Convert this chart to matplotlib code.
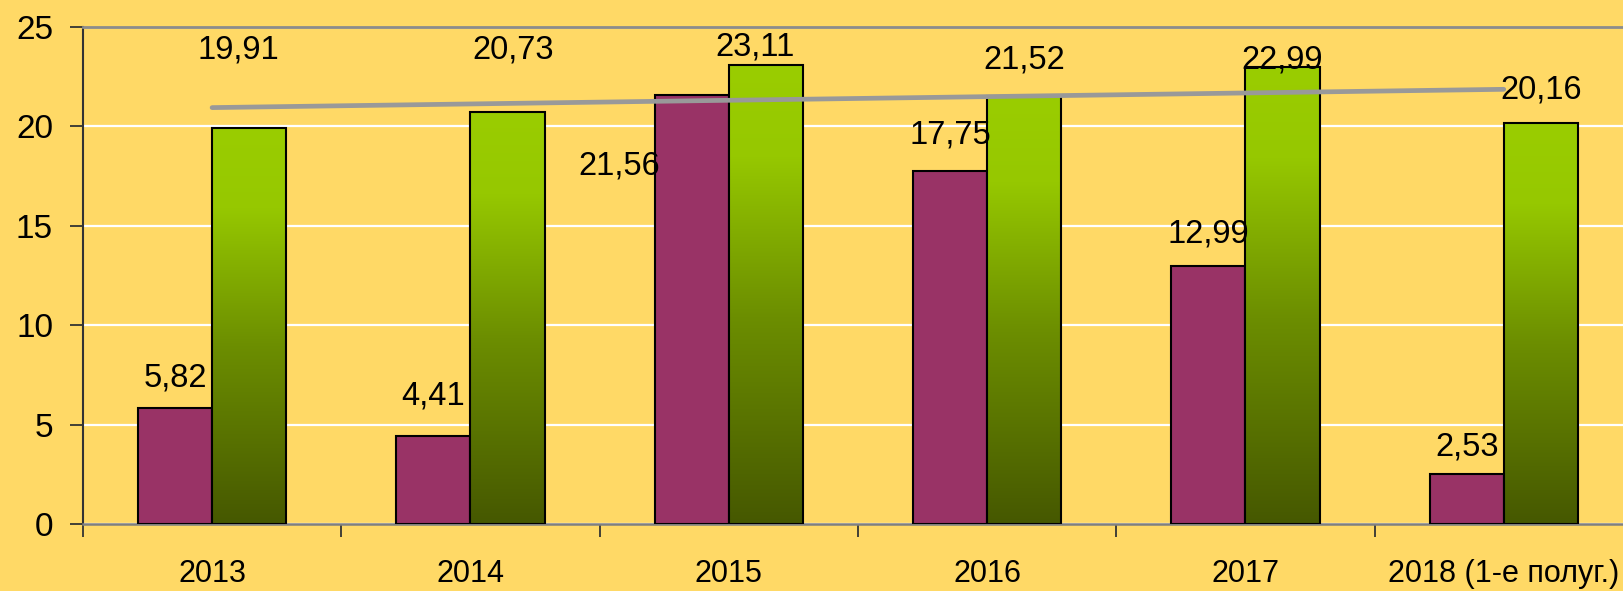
import matplotlib
matplotlib.use('Agg')
import matplotlib.pyplot as plt
from matplotlib.colors import LinearSegmentedColormap
import numpy as np


years = ['2013', '2014', '2015', '2016', '2017', '2018 (1-е полуг.)']
purple_vals = [5.82, 4.41, 21.56, 17.75, 12.99, 2.53]
green_vals = [19.91, 20.73, 23.11, 21.52, 22.99, 20.16]
purple_labels = ['5,82', '4,41', '21,56', '17,75', '12,99', '2,53']
green_labels = ['19,91', '20,73', '23,11', '21,52', '22,99', '20,16']

# where the data labels sit (manually placed in the original)
purple_label_y = [7.35, 6.45, 18.0, 19.55, 14.6, 3.85]
purple_label_dx = [0.0, 0.0, -0.28, 0.0, 0.0, 0.0]
green_label_y = [23.85, 23.85, 24.0, 23.35, 23.35, 21.85]
green_label_dx = [-0.04, 0.02, -0.04, 0.0, 0.0, 0.0]

bg = '#FFD966'
purple = '#993366'

plt.rcParams['font.family'] = ['Liberation Sans', 'DejaVu Sans']
fs_lab, fs_ytick, fs_xtick = 23.5, 24, 22

fig = plt.figure(figsize=(16.23, 5.91), dpi=100)
fig.patch.set_facecolor(bg)
ax = fig.add_axes([0.0511, 0.1134, 0.955, 0.841])
ax.set_facecolor(bg)

x = np.arange(len(years))
w = 0.287

ax.bar(x - w / 2, purple_vals, w, color=purple, edgecolor='black', linewidth=1.5, zorder=3)
gbars = ax.bar(x + w / 2, green_vals, w, color='none', edgecolor='black', linewidth=1.5, zorder=4)

cmap = LinearSegmentedColormap.from_list('g', [(0, '#465800'), (0.45, '#6C8E00'),
                                              (0.8, '#96C800'), (1, '#9ACD00')])
grad = np.linspace(0, 1, 256).reshape(-1, 1)
for b in gbars:
    x0, y0 = b.get_x(), b.get_y()
    im = ax.imshow(grad, cmap=cmap, origin='lower', aspect='auto',
                   extent=(x0, x0 + b.get_width(), y0, y0 + b.get_height()), zorder=3)
    im.set_clip_path(b)

# linear trend of the green series
k, c = np.polyfit(x, green_vals, 1)
ax.plot([x[0], x[-1]], [k * x[0] + c, k * x[-1] + c], color='#999999', lw=3.4, zorder=5,
        solid_capstyle='round')

for i in range(len(years)):
    ax.text(x[i] - w / 2 + purple_label_dx[i], purple_label_y[i], purple_labels[i],
            ha='center', va='center', fontsize=fs_lab, zorder=6)
    ax.text(x[i] + w / 2 + green_label_dx[i], green_label_y[i], green_labels[i],
            ha='center', va='center', fontsize=fs_lab, zorder=6)

ax.set_xlim(-0.5, len(years) - 0.5)
ax.set_ylim(0, 25)
ax.set_yticks([0, 5, 10, 15, 20, 25])
ax.set_yticklabels(['0', '5', '10', '15', '20', '25'])
ax.yaxis.grid(True, color='white', lw=1.6, zorder=1)
ax.set_axisbelow(True)

ax.set_xticks(x)
ax.set_xticklabels(years)
ax.set_xticks(np.arange(-0.5, len(years)), minor=True)
ax.tick_params(axis='x', which='major', length=0, pad=25, labelsize=fs_xtick)
ax.tick_params(axis='x', which='minor', length=9, width=1.3, color='#333333', direction='out')
ax.tick_params(axis='y', length=9.5, width=1.3, color='#333333', pad=12, labelsize=fs_ytick)

ax.spines['left'].set_color('#333333')
ax.spines['left'].set_linewidth(1.5)
ax.spines['bottom'].set_color('#7F7F7F')
ax.spines['bottom'].set_linewidth(1.8)
ax.spines['top'].set_color('#8C8C8C')
ax.spines['top'].set_linewidth(2)
ax.spines['right'].set_visible(False)

plt.savefig('out.png', dpi=100, facecolor=bg)
